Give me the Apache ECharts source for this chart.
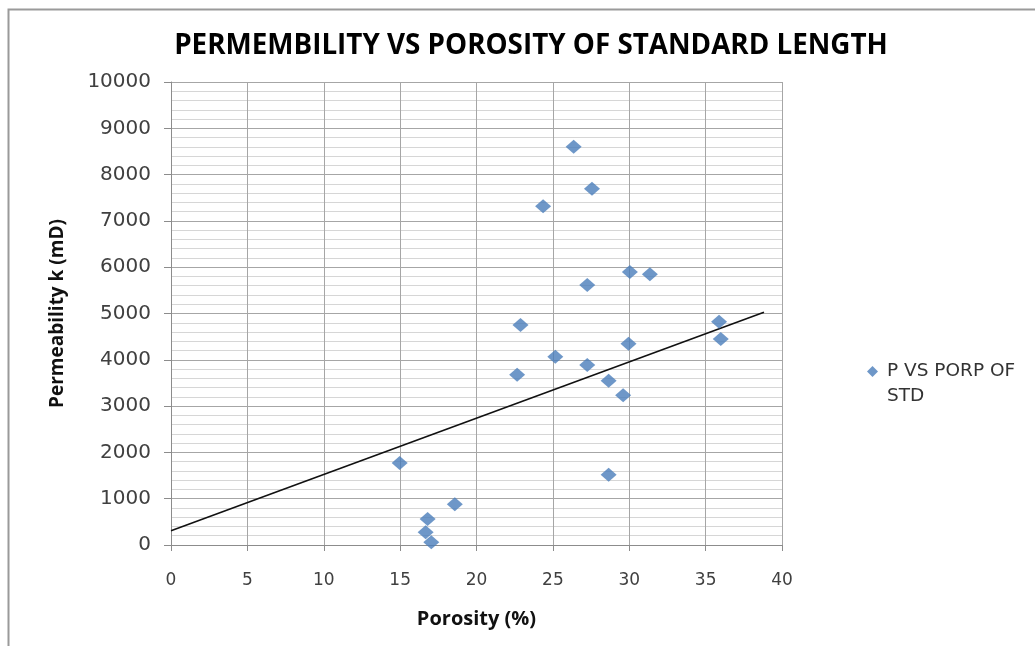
<!DOCTYPE html>
<html>
<head>
<meta charset="utf-8">
<script src="https://cdn.jsdelivr.net/npm/echarts@6/dist/echarts.min.js"></script>
<style>
html,body{margin:0;padding:0;background:#fff;}
#chart{width:1035px;height:646px;}
</style>
</head>
<body>
<div id="chart"></div>
<script>
var titleText = 'PERMEMBILITY VS POROSITY OF STANDARD LENGTH';
var seriesName = 'P VS PORP OF STD';
var xAxisName = 'Porosity (%)';
var yAxisName = 'Permeability k (mD)';
var porosity = [26.36, 27.56, 24.36, 30.04, 31.35, 27.25, 22.88, 35.88, 35.99, 29.95, 25.16, 27.25, 22.66, 28.65, 29.6, 14.97, 28.65, 18.58, 16.8, 16.67, 17.04];
var permeability = [8603, 7696, 7315, 5896, 5847, 5616, 4752, 4823, 4449, 4348, 4067, 3888, 3678, 3549, 3233, 1771, 1519, 879, 562, 274, 58];
var trendX = [0, 38.82];
var trendY = [310, 5026];

var points = porosity.map(function (x, i) { return [x, permeability[i]]; });
var trend = trendX.map(function (x, i) { return [x, trendY[i]]; });

var chart = echarts.init(document.getElementById('chart'));
chart.setOption({
  backgroundColor: '#ffffff',
  animation: false,
  title: {
    text: titleText,
    left: 526, top: 27, textAlign: 'center',
    textStyle: { fontFamily: 'Open Sans', fontWeight: 'bold', fontSize: 27.8, color: '#000' }
  },
  graphic: [{
    type: 'rect', shape: { x: 8.5, y: 9.5, width: 1100, height: 700 },
    style: { fill: 'none', stroke: '#9a9a9a', lineWidth: 2 }, silent: true, z: -10
  }],
  legend: {
    left: 867, top: 334, padding: 0,
    icon: 'diamond', itemWidth: 11, itemHeight: 11, itemGap: 4,
    data: [seriesName],
    formatter: function () { return ' \nP VS PORP OF\nSTD'; },
    textStyle: { fontFamily: 'DejaVu Sans', fontSize: 18.5, color: '#333', lineHeight: 25, padding: [0, 0, 0, 4] }
  },
  grid: { left: 171, right: 253, top: 82, bottom: 101 },
  xAxis: {
    type: 'value', min: 0, max: 40, interval: 5,
    name: xAxisName, nameLocation: 'middle', nameGap: 64,
    nameTextStyle: { fontFamily: 'Open Sans', fontWeight: 'bold', fontSize: 20, color: '#111' },
    axisLine: { show: true, onZero: false, lineStyle: { color: '#8c8c8c', width: 1 } },
    axisTick: { show: true, length: 6, lineStyle: { color: '#8c8c8c' } },
    axisLabel: { fontFamily: 'DejaVu Sans', fontSize: 17, color: '#404040', margin: 27 },
    splitLine: { show: true, lineStyle: { color: '#a6a6a6', width: 1 } }
  },
  yAxis: {
    type: 'value', min: 0, max: 10000, interval: 1000,
    name: yAxisName, nameLocation: 'middle', nameGap: 104, nameRotate: 90,
    nameTextStyle: { fontFamily: 'Open Sans', fontWeight: 'bold', fontSize: 19, color: '#111' },
    axisLine: { show: true, lineStyle: { color: '#8c8c8c', width: 1 } },
    axisTick: { show: true, length: 7, lineStyle: { color: '#8c8c8c' } },
    axisLabel: { fontFamily: 'DejaVu Sans', fontSize: 20, color: '#404040', margin: 20,
      formatter: function (v) { return String(v); } },
    splitLine: { show: true, lineStyle: { color: '#a6a6a6', width: 1 } },
    minorTick: { show: false, splitNumber: 5 },
    minorSplitLine: { show: true, lineStyle: { color: '#d6d6d6', width: 1 } }
  },
  series: [{
    name: seriesName, type: 'scatter', data: points,
    symbol: 'diamond', symbolSize: [16, 14],
    itemStyle: { color: '#4a7dba' }, z: 3
  }, {
    name: 'trend', type: 'line', data: trend,
    symbol: 'none', lineStyle: { color: '#111', width: 1.6 }, z: 2
  }]
});
</script>
</body>
</html>
